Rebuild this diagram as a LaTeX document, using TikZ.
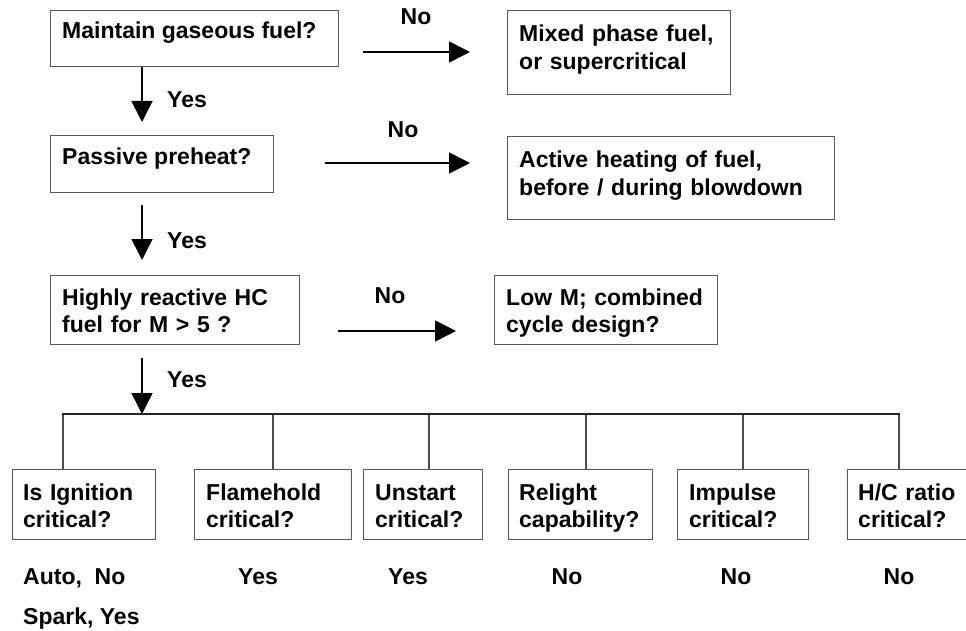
\documentclass[tikz,border=0pt]{standalone}
\usepackage{fontspec}
\setmainfont{Liberation Sans}
\usetikzlibrary{arrows.meta}
\begin{document}
\begin{tikzpicture}[x=1pt,y=-1pt,
  box/.style={draw=black!65,line width=1pt,inner sep=0pt,anchor=north west},
  txt/.style={inner sep=0pt,anchor=base west,align=left,font=\fontsize{23}{27.5}\selectfont\bfseries},
  lbl/.style={inner sep=0pt,anchor=base,font=\fontsize{23}{27.5}\selectfont\bfseries},
  arr/.style={line width=1.6pt,-{Triangle[length=21pt,width=21pt]}},
  bus/.style={line width=2.4pt,draw=black!85},
  drop/.style={line width=1.6pt,draw=black!70}]
\useasboundingbox (0,0) rectangle (966,631);
% decision column
\node[box,minimum width=288pt,minimum height=56pt] (b1) at (50,10) {};
\node[txt] (t1) at (62,39) {Maintain gaseous fuel?};
\node[box,minimum width=223pt,minimum height=57pt] (b2) at (50,135) {};
\node[txt] (t2) at (62,165) {Passive preheat?};
\node[box,minimum width=249pt,minimum height=69pt] (b3) at (50,275) {};
\node[txt,text width=240pt] (t3) at (62,305) {Highly reactive HC\\fuel for M > 5 ?};
% outcome boxes
\node[box,minimum width=223pt,minimum height=84pt] (o1) at (507,10) {};
\node[txt,text width=215pt] (u1) at (519,42) {Mixed phase fuel,\\or supercritical};
\node[box,minimum width=327pt,minimum height=83pt] (o2) at (507,136) {};
\node[txt,text width=320pt] (u2) at (519,168) {Active heating of fuel,\\before / during blowdown};
\node[box,minimum width=223pt,minimum height=69pt] (o3) at (494,275) {};
\node[txt,text width=215pt] (u3) at (506,305) {Low M; combined\\cycle design?};
% No arrows
\coordinate (n1s) at (363,52); \coordinate (n1e) at (470,52);
\draw[arr] (n1s) -- (n1e);
\node[lbl] (no1) at (416,25) {No};
\coordinate (n2s) at (325,163); \coordinate (n2e) at (470,163);
\draw[arr] (n2s) -- (n2e);
\node[lbl] (no2) at (403,138) {No};
\coordinate (n3s) at (338,331); \coordinate (n3e) at (456,331);
\draw[arr] (n3s) -- (n3e);
\node[lbl] (no3) at (390,303) {No};
% Yes arrows
\coordinate (y1e) at (142,122);
\draw[arr] (b1.south west -| y1e) -- (y1e);
\node[txt] (ye1) at (167,108) {Yes};
\coordinate (y2s) at (142,205); \coordinate (y2e) at (142,260);
\draw[arr] (y2s) -- (y2e);
\node[txt] (ye2) at (167,248) {Yes};
\coordinate (y3s) at (142,358); \coordinate (y3e) at (142,414);
\draw[arr] (y3s) -- (y3e);
\node[txt] (ye3) at (167,387) {Yes};
% bottom row
\node[box,minimum width=143pt,minimum height=70pt] (c1) at (12,469) {};
\node[txt,text width=140pt] (d1) at (23,500) {Is Ignition\\critical?};
\node[box,minimum width=157pt,minimum height=70pt] (c2) at (194,469) {};
\node[txt,text width=150pt] (d2) at (206,500) {Flamehold\\critical?};
\node[box,minimum width=119pt,minimum height=70pt] (c3) at (363,469) {};
\node[txt,text width=115pt] (d3) at (375,500) {Unstart\\critical?};
\node[box,minimum width=144pt,minimum height=70pt] (c4) at (508,469) {};
\node[txt,text width=140pt] (d4) at (519,500) {Relight\\capability?};
\node[box,minimum width=131pt,minimum height=70pt] (c5) at (677,469) {};
\node[txt,text width=125pt] (d5) at (689,500) {Impulse\\critical?};
\node[box,minimum width=130pt,minimum height=70pt] (c6) at (847,469) {};
\node[txt,text width=120pt] (d6) at (858,500) {H/C ratio\\critical?};
% bus
\coordinate (k1) at (63,414); \coordinate (k2) at (273,414); \coordinate (k3) at (429,414);
\coordinate (k4) at (586,414); \coordinate (k5) at (743,414); \coordinate (k6) at (899,414);
\draw[drop] (k1) -- (k1 |- c1.north);
\draw[drop] (k2) -- (k2 |- c2.north);
\draw[drop] (k3) -- (k3 |- c3.north);
\draw[drop] (k4) -- (k4 |- c4.north);
\draw[drop] (k5) -- (k5 |- c5.north);
\draw[drop] (k6) -- (k6 |- c6.north);
\draw[bus] ([xshift=-0.8pt]k1) -- ([xshift=0.8pt]k6);
% answers
\node[txt] (a1) at (23,584) {Auto,\ \ No};
\node[txt] (a1b) at (23,624) {Spark, Yes};
\node[lbl] (a2) at (258,584) {Yes};
\node[lbl] (a3) at (408,584) {Yes};
\node[lbl] (a4) at (567,584) {No};
\node[lbl] (a5) at (736,584) {No};
\node[lbl] (a6) at (899,584) {No};
\end{tikzpicture}
\end{document}
